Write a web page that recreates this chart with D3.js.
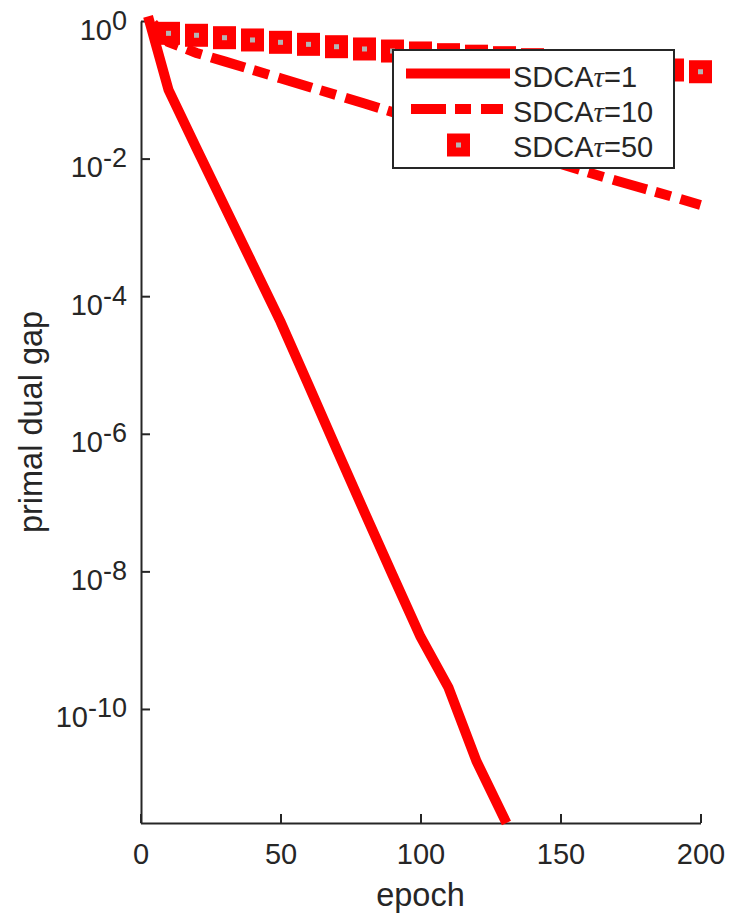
<!DOCTYPE html>
<html lang="en">
<head>
<meta charset="utf-8" />
<title>primal dual gap</title>
<style>
html, body {
	margin: 0;
	padding: 0;
	background: #fff;
}
svg { display: block; }
text {
	font-family: "Liberation Sans", Arial, Helvetica, sans-serif;
	fill: #262626;
}
</style>
</head>
<body>
<svg width="731" height="916"></svg>

<script src="https://cdn.jsdelivr.net/npm/d3@7/dist/d3.min.js"></script>
<script>
// values (epoch, primal dual gap)
var epochTau1 = [2.7, 10, 20, 30, 40, 50, 60, 70, 80, 90, 100, 110, 120, 130.7];
var gapTau1   = [1.17, 0.1, 1.41e-2, 2.04e-3, 2.95e-4, 4.27e-5, 5.13e-6, 6.03e-7, 7.24e-8, 8.9e-9, 1.12e-9, 2.04e-10, 1.74e-11, 2.2e-12];

// middle part of this one sits behind the legend
var epochTau10 = [2.7, 10, 20, 30, 40, 50, 60, 70, 80, 160, 170, 180, 190, 200];
var gapTau10   = [1.15, 0.495, 0.343, 0.259, 0.195, 0.147, 0.111, 0.0838, 0.0632, 6.26e-3, 4.77e-3, 3.64e-3, 2.79e-3, 2.12e-3];

var epochTau50 = [10, 20, 30, 40, 50, 60, 70, 80, 90, 100, 110, 120, 130, 140, 150, 160, 170, 180, 190, 200];
var gapTau50   = [0.662, 0.620, 0.572, 0.530, 0.490, 0.458, 0.423, 0.392, 0.366, 0.343, 0.324, 0.308, 0.293, 0.274, 0.256, 0.240, 0.223, 0.208, 0.194, 0.183];

var xTicks = [0, 50, 100, 150, 200];
var yTicks = [1e0, 1e-2, 1e-4, 1e-6, 1e-8, 1e-10];
var legendLabels = ["1", "10", "50"];

var red = "#ff0000";
var axisColor = "#262626";

var svg = d3.select("svg");

var x = d3.scaleLinear().domain([0, 200]).range([140.5, 700.5]);
var y = d3.scaleLog().domain([d3.min(gapTau1), 1]).range([823, 21]);

// axes
var xAxis = d3.axisBottom(x)
	.tickValues(xTicks)
	.tickSizeInner(-9)
	.tickSizeOuter(0)
	.tickPadding(20);

var gx = svg.append("g")
	.attr("transform", "translate(0,823)")
	.call(xAxis);

var yAxis = d3.axisLeft(y)
	.tickValues(yTicks)
	.tickSizeInner(-9)
	.tickSizeOuter(0)
	.tickPadding(14)
	.tickFormat("");

var gy = svg.append("g")
	.attr("transform", "translate(141,0)")
	.call(yAxis);

[gx, gy].forEach(function(g){
	g.select(".domain").attr("stroke", axisColor).attr("stroke-width", 2);
	g.selectAll(".tick line").attr("stroke", axisColor).attr("stroke-width", 2);
	g.selectAll(".tick text")
		.attr("fill", axisColor)
		.attr("font-size", 29)
		.attr("font-family", null);
});

// 10 with superscript exponent
gy.selectAll(".tick text")
	.attr("dy", 18)
	.each(function(d){
		var t = d3.select(this);
		t.append("tspan").text("10");
		t.append("tspan")
			.attr("dy", -10)
			.attr("font-size", 27)
			.text(Math.round(Math.log10(d)));
	});

// axis labels
svg.append("text")
	.attr("x", 420.5)
	.attr("y", 906)
	.attr("text-anchor", "middle")
	.attr("font-size", 32.5)
	.text("epoch");

svg.append("text")
	.attr("transform", "translate(42,422) rotate(-90)")
	.attr("text-anchor", "middle")
	.attr("font-size", 32.5)
	.text("primal dual gap");

// series
var line = d3.line()
	.x(function(d){ return x(d[0]); })
	.y(function(d){ return y(d[1]); });

var dashPattern = "35,9,16,10";

svg.append("path")
	.datum(d3.zip(epochTau1, gapTau1))
	.attr("d", line)
	.attr("fill", "none")
	.attr("stroke", red)
	.attr("stroke-width", 10);

svg.append("path")
	.datum(d3.zip(epochTau10, gapTau10))
	.attr("d", line)
	.attr("fill", "none")
	.attr("stroke", red)
	.attr("stroke-width", 10)
	.attr("stroke-dasharray", dashPattern)
	.attr("stroke-dashoffset", 62);

var markerSize = 23;
var dotSize = 5;

function squareMarker(g, cx, cy) {
	g.append("rect")
		.attr("x", cx - markerSize / 2)
		.attr("y", cy - markerSize / 2)
		.attr("width", markerSize)
		.attr("height", markerSize)
		.attr("fill", red);
	g.append("rect")
		.attr("x", cx - dotSize / 2)
		.attr("y", cy - dotSize / 2)
		.attr("width", dotSize)
		.attr("height", dotSize)
		.attr("fill", "#b4b4b4");
}

var gMarkers = svg.append("g");
d3.zip(epochTau50, gapTau50).forEach(function(d){
	squareMarker(gMarkers, x(d[0]), y(d[1]));
});

// legend
var legend = svg.append("g");

legend.append("rect")
	.attr("x", 393)
	.attr("y", 50)
	.attr("width", 281)
	.attr("height", 118)
	.attr("fill", "#fff")
	.attr("stroke", axisColor)
	.attr("stroke-width", 2);

var rowY = [76, 111.5, 146.5];

legend.append("line")
	.attr("x1", 406).attr("x2", 510)
	.attr("y1", rowY[0] - 2.5).attr("y2", rowY[0] - 2.5)
	.attr("stroke", red)
	.attr("stroke-width", 10);

legend.append("line")
	.attr("x1", 411).attr("x2", 503)
	.attr("y1", rowY[1] - 2.5).attr("y2", rowY[1] - 2.5)
	.attr("stroke", red)
	.attr("stroke-width", 10)
	.attr("stroke-dasharray", dashPattern);

squareMarker(legend, 458.5, rowY[2] - 1.5);

legendLabels.forEach(function(lab, i){
	var t = legend.append("text")
		.attr("x", 513)
		.attr("y", rowY[i] + 10.5)
		.attr("font-size", 29)
		.attr("fill", "#000");
	t.append("tspan").text("SDCA");
	t.append("tspan")
		.attr("font-family", "'Liberation Serif', 'Times New Roman', serif")
		.attr("font-style", "italic")
		.text("\u03c4");
	t.append("tspan").text("=" + lab);
});
</script>
</body>
</html>
